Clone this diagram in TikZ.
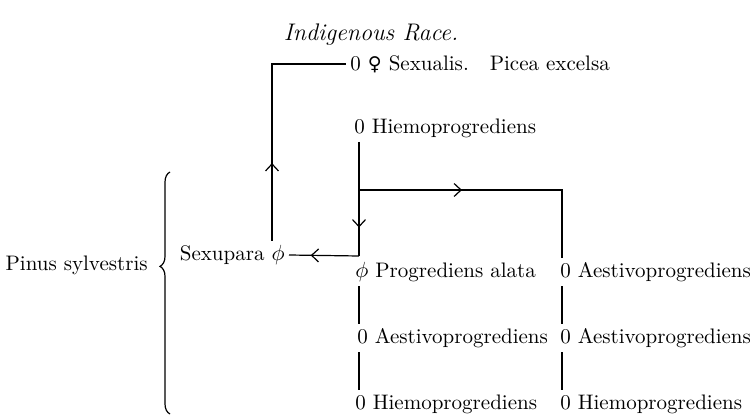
\documentclass[tikz,border=0pt]{standalone}
\usepackage{fontspec}
\newfontfamily\symfont{DejaVu Sans}
\usetikzlibrary{arrows.meta,positioning,decorations.markings,decorations.pathreplacing}

\begin{document}
\begin{tikzpicture}[
 x=0.5pt,y=-0.5pt,
 node distance=19pt,
 every node/.style={font=\fontsize{10.5}{12}\selectfont,inner sep=2pt},
 form/.style={anchor=west},
 link/.style={line width=0.6pt},
 midarrow/.style={link,postaction={decorate},
   decoration={markings,mark=at position #1 with {\arrow{Straight Barb[length=3.5pt,width=6.5pt]}}}},
 midarrow/.default=0.5,
]
\useasboundingbox (0,0) rectangle (750,417);

% columns the lines run down
\coordinate (colS) at (272,0);
\coordinate (colA) at (359,0);
\coordinate (colB) at (562,0);

\node[font=\fontsize{12}{14}\selectfont\itshape] (title) at (371,35) {Indigenous Race.};

\node[form] (sex) at (346,64) {0 {\symfont\fontsize{9.5}{12}\selectfont ♀} Sexualis.\quad Picea excelsa};
\node[form] (hiemo) at (350,128) {0 Hiemoprogrediens};

\node[anchor=east] (pinus) at (152,265) {Pinus sylvestris};
\node[anchor=east] (sexu) at (289,255) {Sexupara $\phi$};

% left column
\node[form] (prog) at (351,272) {$\phi$ Progrediens alata};
\node[below=19pt of prog.south west,anchor=north west,xshift=1pt] (aesA) {0 Aestivoprogrediens};
\node[below=19pt of aesA.south west,anchor=north west,xshift=-1pt] (hiemoA) {0 Hiemoprogrediens};

% right column
\node[form] (aesB) at (556,272) {0 Aestivoprogrediens};
\node[below=19pt of aesB.south west,anchor=north west] (aesB2) {0 Aestivoprogrediens};
\node[below=19pt of aesB2.south west,anchor=north west] (hiemoB) {0 Hiemoprogrediens};

\coordinate (fork) at (359,190);
\coordinate (join) at (359,256);
\coordinate (top) at (272,64);

\draw[decorate,decoration={brace,amplitude=5pt,aspect=0.61},link] (170,414) -- (170,172);

\draw[midarrow=0.75] (hiemo.south -| colA) -- (join);
\draw[midarrow=0.69] (join) -- (sexu.east);
\draw[midarrow=0.38] (fork) -- (fork -| colB) -- (aesB.north -| colB);
\draw[midarrow=0.31] (sexu.north -| colS) -- (top) -- (sex.west);

\draw[link] (prog.south -| colA) -- (aesA.north -| colA);
\draw[link] (aesA.south -| colA) -- (hiemoA.north -| colA);
\draw[link] (aesB.south -| colB) -- (aesB2.north -| colB);
\draw[link] (aesB2.south -| colB) -- (hiemoB.north -| colB);
\end{tikzpicture}
\end{document}
